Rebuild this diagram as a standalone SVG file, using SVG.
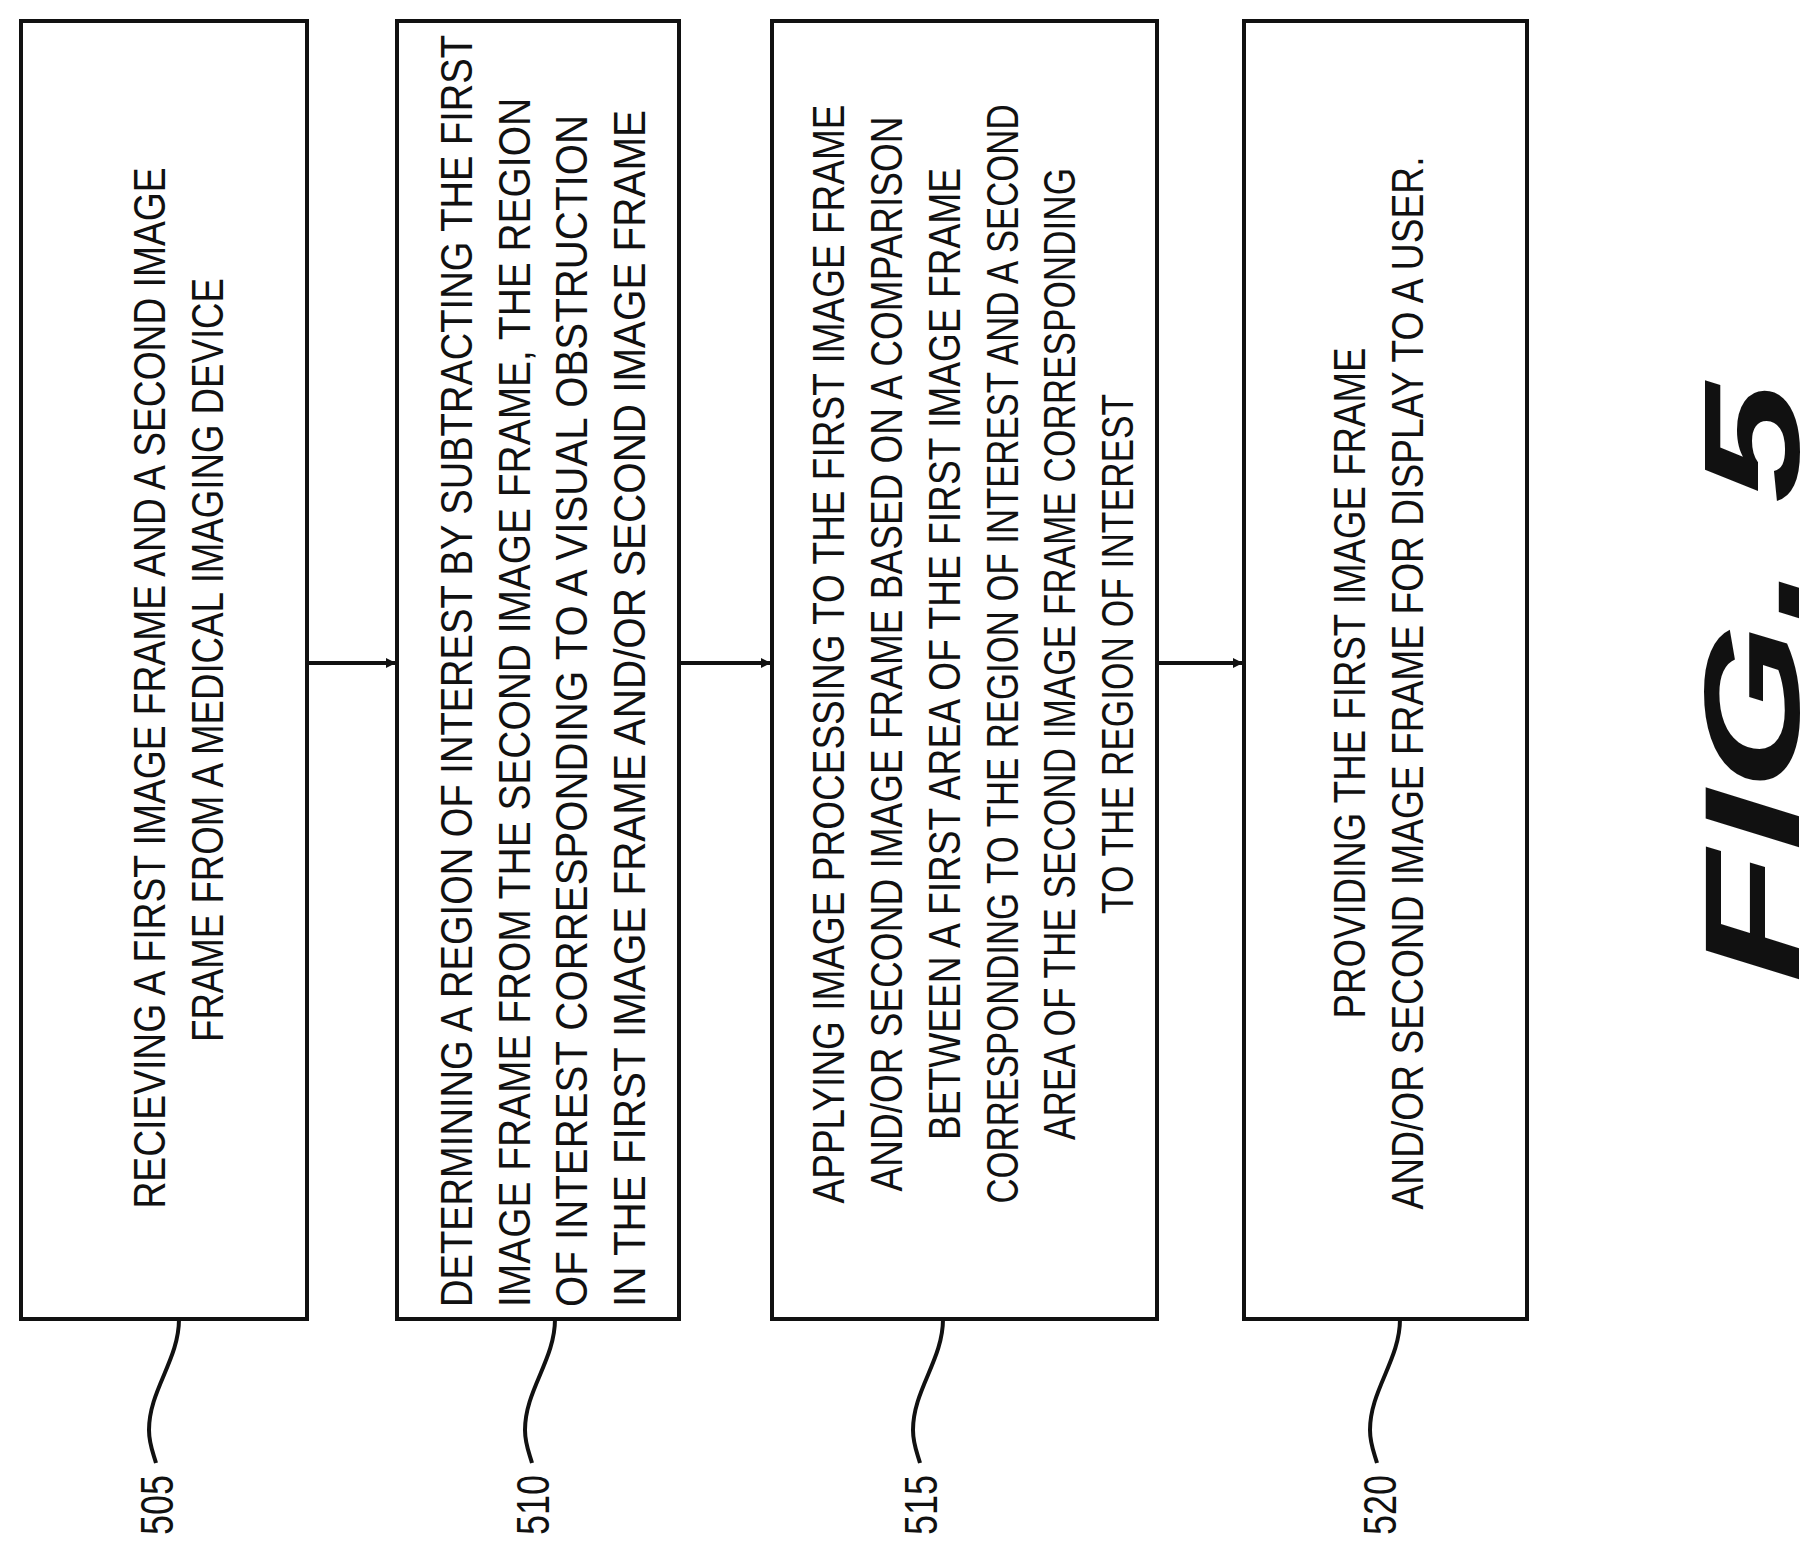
<svg xmlns="http://www.w3.org/2000/svg" width="1815" height="1556" viewBox="0 0 1815 1556">
<style>
.box{fill:#fff;stroke:#111;stroke-width:4}
.t{font-family:"Liberation Sans",Arial,sans-serif;font-size:44px;fill:#111;text-anchor:middle}
.ts{font-family:"Liberation Sans",Arial,sans-serif;font-size:44px;fill:#111;text-anchor:start}
.lbl{font-family:"Liberation Sans",Arial,sans-serif;font-size:46px;fill:#111;text-anchor:middle}
.c{fill:none;stroke:#111;stroke-width:4}
</style>
<defs><marker id="ah" markerWidth="10" markerHeight="10" refX="9" refY="5" orient="auto" markerUnits="userSpaceOnUse" viewBox="0 0 10 10"><path d="M0,0 L10,5 L0,10 z" fill="#111"/></marker></defs>
<rect width="1815" height="1556" fill="#fff"/>
<g id="n505"><rect class="box" x="21" y="21" width="286" height="1298"/>
<text class="t" transform="translate(165,688) rotate(-90)" textLength="1041" lengthAdjust="spacingAndGlyphs">RECIEVING A FIRST IMAGE FRAME AND A SECOND IMAGE</text>
<text class="t" transform="translate(223,660) rotate(-90)" textLength="764" lengthAdjust="spacingAndGlyphs">FRAME FROM A MEDICAL IMAGING DEVICE</text></g>
<g id="n510"><rect class="box" x="397" y="21" width="282" height="1298"/>
<text class="ts" transform="translate(472,1307) rotate(-90)" textLength="1272" lengthAdjust="spacingAndGlyphs">DETERMINING A REGION OF INTEREST BY SUBTRACTING THE FIRST</text>
<text class="ts" transform="translate(530,1307) rotate(-90)" textLength="1209" lengthAdjust="spacingAndGlyphs">IMAGE FRAME FROM THE SECOND IMAGE FRAME, THE REGION</text>
<text class="ts" transform="translate(587,1307) rotate(-90)" textLength="1192" lengthAdjust="spacingAndGlyphs">OF INTEREST CORRESPONDING TO A VISUAL OBSTRUCTION</text>
<text class="ts" transform="translate(645,1307) rotate(-90)" textLength="1197" lengthAdjust="spacingAndGlyphs">IN THE FIRST IMAGE FRAME AND/OR SECOND IMAGE FRAME</text></g>
<g id="n515"><rect class="box" x="772" y="21" width="385" height="1298"/>
<text class="t" transform="translate(844,654) rotate(-90)" textLength="1099" lengthAdjust="spacingAndGlyphs">APPLYING IMAGE PROCESSING TO THE FIRST IMAGE FRAME</text>
<text class="t" transform="translate(902,654) rotate(-90)" textLength="1075" lengthAdjust="spacingAndGlyphs">AND/OR SECOND IMAGE FRAME BASED ON A COMPARISON</text>
<text class="t" transform="translate(960,654) rotate(-90)" textLength="972" lengthAdjust="spacingAndGlyphs">BETWEEN A FIRST AREA OF THE FIRST IMAGE FRAME</text>
<text class="t" transform="translate(1018,654) rotate(-90)" textLength="1099" lengthAdjust="spacingAndGlyphs">CORRESPONDING TO THE REGION OF INTEREST AND A SECOND</text>
<text class="t" transform="translate(1075,654) rotate(-90)" textLength="972" lengthAdjust="spacingAndGlyphs">AREA OF THE SECOND IMAGE FRAME CORRESPONDING</text>
<text class="t" transform="translate(1133,654) rotate(-90)" textLength="520" lengthAdjust="spacingAndGlyphs">TO THE REGION OF INTEREST</text></g>
<g id="n520"><rect class="box" x="1244" y="21" width="283" height="1298"/>
<text class="t" transform="translate(1365,683) rotate(-90)" textLength="671" lengthAdjust="spacingAndGlyphs">PROVIDING THE FIRST IMAGE FRAME</text>
<text class="t" transform="translate(1423,683) rotate(-90)" textLength="1053" lengthAdjust="spacingAndGlyphs">AND/OR SECOND IMAGE FRAME FOR DISPLAY TO A USER.</text></g>
<g id="connectors">
<line class="c" x1="307" y1="663" x2="395" y2="663" marker-end="url(#ah)"/>
<line class="c" x1="679" y1="663" x2="770" y2="663" marker-end="url(#ah)"/>
<line class="c" x1="1157" y1="663" x2="1242" y2="663" marker-end="url(#ah)"/>
<path class="c" d="M179,1319 C179,1360 149,1390 149,1430 C149,1445 154,1455 156,1463"/>
<path class="c" d="M555,1319 C555,1360 525,1390 525,1430 C525,1445 530,1455 532,1463"/>
<path class="c" d="M943,1319 C943,1360 913,1390 913,1430 C913,1445 918,1455 920,1463"/>
<path class="c" d="M1400,1319 C1400,1360 1370,1390 1370,1430 C1370,1445 1375,1455 1377,1463"/>
</g>
<g id="labels">
<text class="lbl" transform="translate(173,1505) rotate(-90)" textLength="60" lengthAdjust="spacingAndGlyphs">505</text>
<text class="lbl" transform="translate(549,1505) rotate(-90)" textLength="60" lengthAdjust="spacingAndGlyphs">510</text>
<text class="lbl" transform="translate(937,1505) rotate(-90)" textLength="60" lengthAdjust="spacingAndGlyphs">515</text>
<text class="lbl" transform="translate(1396,1505) rotate(-90)" textLength="60" lengthAdjust="spacingAndGlyphs">520</text>
<text transform="translate(1799,683) rotate(-90)" font-family="Liberation Sans,Arial,sans-serif" font-size="136" font-weight="bold" font-style="italic" text-anchor="middle" fill="#111" textLength="600" lengthAdjust="spacingAndGlyphs">FIG. 5</text>
</g>
</svg>
